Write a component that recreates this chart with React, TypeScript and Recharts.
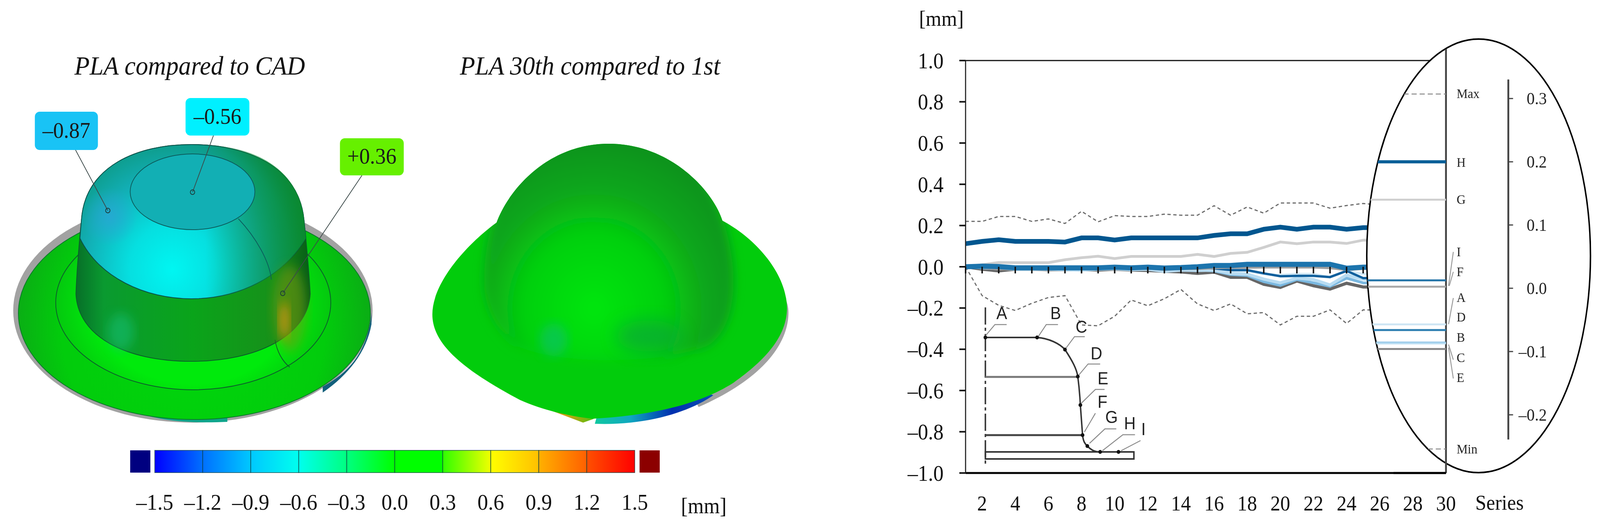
import {
  LineChart,
  Line,
  BarChart,
  Bar,
  Cell,
  XAxis,
  YAxis,
  ReferenceLine,
} from "recharts";

const SERIF = "'Liberation Serif', serif";
const SANS = "'Liberation Sans', sans-serif";

// the sandbox window stops at 4096px wide, so the 4363px layout is squeezed to fit
const FIT_X = 4096 / 4363;

// main chart, series 1..26 (the rest sits behind the ellipse)
const seriesNo = [1, 2, 3, 4, 5, 6, 7, 8, 9, 10, 11, 12, 13, 14, 15, 16, 17, 18, 19, 20, 21, 22, 23, 24, 25, 26];
const maxLine = [0.22, 0.22, 0.244, 0.244, 0.22, 0.232, 0.21, 0.269, 0.218, 0.248, 0.244, 0.244, 0.255, 0.25, 0.25, 0.296, 0.25, 0.29, 0.26, 0.309, 0.309, 0.309, 0.284, 0.297, 0.307, 0.3];
const minLine = [0, -0.14, -0.187, -0.212, -0.177, -0.149, -0.14, -0.282, -0.286, -0.24, -0.161, -0.189, -0.155, -0.11, -0.18, -0.212, -0.18, -0.228, -0.222, -0.282, -0.24, -0.24, -0.209, -0.275, -0.209, -0.21];
const lineH = [0.112, 0.123, 0.131, 0.123, 0.123, 0.123, 0.12, 0.14, 0.14, 0.13, 0.14, 0.14, 0.14, 0.14, 0.14, 0.152, 0.16, 0.16, 0.182, 0.192, 0.182, 0.192, 0.192, 0.182, 0.19, 0.19];
const lineG = [0, 0.01, 0.021, 0.02, 0.02, 0.02, 0.034, 0.044, 0.051, 0.04, 0.05, 0.05, 0.05, 0.05, 0.06, 0.05, 0.065, 0.07, 0.094, 0.12, 0.112, 0.12, 0.12, 0.113, 0.129, 0.13];
const lineI = [0, 0.003, 0.001, -0.005, -0.005, -0.005, -0.005, -0.005, -0.005, -0.002, -0.005, -0.002, -0.006, -0.004, 0, 0.006, 0.006, 0.012, 0.012, 0.012, 0.012, 0.012, 0.012, -0.007, -0.002, -0.002];
const lineF = [0, -0.004, -0.012, -0.01, -0.01, -0.01, -0.01, -0.01, -0.01, -0.008, -0.01, -0.008, -0.014, -0.01, -0.01, -0.006, -0.004, -0.004, -0.003, -0.003, -0.003, -0.003, -0.006, -0.015, -0.01, -0.01];
const lineA = [0, 0.004, 0.001, -0.006, -0.006, -0.007, -0.007, -0.006, -0.006, -0.004, -0.006, -0.004, -0.01, -0.006, -0.005, -0.01, -0.02, -0.02, -0.035, -0.04, -0.035, -0.035, -0.05, -0.02, -0.035, -0.035];
const lineD = [0, 0.001, 0.006, -0.004, -0.004, -0.005, -0.004, -0.004, -0.006, 0.003, -0.004, -0.002, -0.008, -0.004, -0.004, -0.008, -0.016, -0.016, -0.032, -0.046, -0.044, -0.044, -0.05, -0.02, -0.055, -0.055];
const lineB = [0, -0.006, -0.01, -0.01, -0.01, -0.01, -0.012, -0.014, -0.012, -0.008, -0.012, -0.012, -0.018, -0.014, -0.016, -0.02, -0.038, -0.042, -0.072, -0.09, -0.062, -0.078, -0.095, -0.055, -0.078, -0.08];
const lineC = [0, -0.004, -0.008, -0.012, -0.012, -0.012, -0.014, -0.016, -0.012, -0.01, -0.014, -0.012, -0.022, -0.016, -0.018, -0.016, -0.032, -0.036, -0.06, -0.078, -0.055, -0.062, -0.088, -0.04, -0.06, -0.065];
const lineE = [0, -0.012, -0.02, -0.012, -0.012, -0.014, -0.014, -0.014, -0.016, -0.012, -0.016, -0.018, -0.022, -0.025, -0.032, -0.026, -0.051, -0.051, -0.085, -0.1, -0.069, -0.092, -0.108, -0.08, -0.098, -0.098];
const zeroLine = seriesNo.map(() => 0);

const yTicks = [1, 0.8, 0.6, 0.4, 0.2, 0, -0.2, -0.4, -0.6, -0.8, -1];
const xTicks = [2, 4, 6, 8, 10, 12, 14, 16, 18, 20, 22, 24, 26, 28, 30];

const mainData = seriesNo.map((n, i) => ({
  n,
  zero: zeroLine[i],
  max: maxLine[i],
  min: minLine[i],
  H: lineH[i],
  G: lineG[i],
  I: lineI[i],
  F: lineF[i],
  A: lineA[i],
  D: lineD[i],
  B: lineB[i],
  C: lineC[i],
  E: lineE[i],
}));

// enlarged part inside the ellipse: values at series 30
const insetNames = ["max", "H", "G", "I", "F", "A", "D", "B", "C", "E", "min"];
const insetValues = [0.307, 0.2, 0.14, 0.0125, 0.0025, -0.057, -0.066, -0.086, -0.087, -0.096, -0.254];
const insetColors = ["#8a8a8a", "#0a5f98", "#cfcfcf", "#2474a8", "#a8a8a8", "#cfe6f4", "#2a7db0", "#7ab8e0", "#b8dcf2", "#8a8a8a", "#8a8a8a"];
const insetX = [25, 30];
const insetTicks = [0.3, 0.2, 0.1, 0, -0.1, -0.2];
const insetData = insetX.map((n) => {
  const row: Record<string, number> = { n };
  insetNames.forEach((name, i) => {
    row[name] = insetValues[i];
  });
  return row;
});

// colour scale
const scaleTicks = [-1.5, -1.2, -0.9, -0.6, -0.3, 0, 0.3, 0.6, 0.9, 1.2, 1.5];
const scaleMids = [-1.35, -1.05, -0.75, -0.45, -0.15, 0.15, 0.45, 0.75, 1.05, 1.35];
const scaleFrom = ["#0000ff", "#0070ff", "#00c8ff", "#00ffee", "#00ff80", "#00ff00", "#30ff00", "#ffff00", "#ffb000", "#ff5000"];
const scaleTo = ["#0070ff", "#00c8ff", "#00ffee", "#00ff80", "#00ff00", "#00ff00", "#f0ff00", "#ffc000", "#ff6000", "#ff0000"];
const scaleData = scaleMids.map((mid) => ({ mid, span: 1 }));

const dash = (v: number, digits = 1) =>
  v < 0 ? "–" + Math.abs(v).toFixed(digits) : v.toFixed(digits);

const layer: React.CSSProperties = { position: "absolute", left: 0, top: 0 };

function ZeroTick(p: any) {
  return <line key={p.index} x1={p.cx} y1={p.cy} x2={p.cx} y2={p.cy + 17} stroke="#111" strokeWidth={4} />;
}

function InsetTick(p: any) {
  return (
    <text
      x={p.x + 92}
      y={p.y}
      textAnchor="end"
      dominantBaseline="central"
      fontFamily={SERIF}
      fontSize={44}
      fill="#222"
    >
      {dash(p.payload.value)}
    </text>
  );
}

function Callout({ x, y, w, h, fill, text, lx1, ly1, lx2, ly2 }: any) {
  return (
    <g>
      <line x1={lx1} y1={ly1} x2={lx2} y2={ly2} stroke="#3c4a4a" strokeWidth={2} />
      <circle cx={lx2} cy={ly2} r={6} fill="none" stroke="#1c3a3a" strokeWidth={2} />
      <rect x={x} y={y} width={w} height={h} rx={13} fill={fill} />
      <text x={x + w / 2} y={y + h / 2 + 18} textAnchor="middle" fontFamily={SERIF} fontSize={58} fill="#1a1a1a">
        {text}
      </text>
    </g>
  );
}

function Hats() {
  const hat2Outline =
    "M1354 570 C 1385 490 1490 368 1660 368 C 1830 368 1945 490 1970 565 C 2060 610 2146 700 2146 790 C 2145 860 2090 920 2000 980 C 1900 1040 1760 1065 1615 1072 C 1550 1065 1480 1050 1418 1024 C 1260 945 1179 880 1179 805 C 1179 720 1280 620 1354 570 Z";
  return (
    <svg width={2300} height={1339} style={layer}>
      <defs>
        <radialGradient id="domeTop" gradientUnits="userSpaceOnUse" cx={470} cy={690} r={390}>
          <stop offset="0" stopColor="#00f6f2" />
          <stop offset="0.3" stopColor="#06dfe0" />
          <stop offset="0.62" stopColor="#12aeb4" />
          <stop offset="0.85" stopColor="#0d9a86" />
          <stop offset="1" stopColor="#0a7d50" />
        </radialGradient>
        <linearGradient id="domeRight" gradientUnits="userSpaceOnUse" x1={560} y1={0} x2={832} y2={0}>
          <stop offset="0" stopColor="#0aa040" stopOpacity={0} />
          <stop offset="1" stopColor="#0a8a2a" stopOpacity={0.9} />
        </linearGradient>
        <radialGradient id="blueSpot" gradientUnits="userSpaceOnUse" cx={300} cy={555} r={75}>
          <stop offset="0" stopColor="#2aa6d6" stopOpacity={0.8} />
          <stop offset="1" stopColor="#2aa6d6" stopOpacity={0} />
        </radialGradient>
        <linearGradient id="domeBand" gradientUnits="userSpaceOnUse" x1={207} y1={0} x2={846} y2={0}>
          <stop offset="0" stopColor="#076f28" />
          <stop offset="0.12" stopColor="#0a9a30" />
          <stop offset="0.5" stopColor="#0aa41a" />
          <stop offset="0.85" stopColor="#17901a" />
          <stop offset="1" stopColor="#065c16" />
        </linearGradient>
        <radialGradient id="hat1Brim" gradientUnits="userSpaceOnUse" cx={527} cy={830} r={480}>
          <stop offset="0" stopColor="#00d80c" />
          <stop offset="0.75" stopColor="#02cc0c" />
          <stop offset="1" stopColor="#0aae14" />
        </radialGradient>
        <radialGradient id="hat1Ring" gradientUnits="userSpaceOnUse" cx={527} cy={780} r={375} gradientTransform="translate(0 185) scale(1 0.76)">
          <stop offset="0.72" stopColor="#00ea0c" />
          <stop offset="1" stopColor="#04c80e" />
        </radialGradient>
        <radialGradient id="hat2Dome" gradientUnits="userSpaceOnUse" cx={1620} cy={790} r={480}>
          <stop offset="0" stopColor="#00e60c" />
          <stop offset="0.4" stopColor="#04d00e" />
          <stop offset="0.62" stopColor="#0aa81a" />
          <stop offset="0.85" stopColor="#0a961a" />
          <stop offset="1" stopColor="#0a8c1c" />
        </radialGradient>
        <linearGradient id="hat2Strip" x1="0" y1="0" x2="1" y2="0">
          <stop offset="0" stopColor="#10c8a0" />
          <stop offset="0.3" stopColor="#10a8c0" />
          <stop offset="0.65" stopColor="#0030b0" />
          <stop offset="1" stopColor="#0a50b0" />
        </linearGradient>
        <linearGradient id="hat2Warm" x1="0" y1="0" x2="1" y2="0">
          <stop offset="0" stopColor="#a86a20" />
          <stop offset="0.6" stopColor="#d8a010" />
          <stop offset="1" stopColor="#50c010" />
        </linearGradient>
        <clipPath id="hat2Clip">
          <path d={hat2Outline} />
        </clipPath>
        <filter id="soft" x="-20%" y="-20%" width="140%" height="140%">
          <feGaussianBlur stdDeviation="14" />
        </filter>
        <filter id="softer" x="-50%" y="-50%" width="200%" height="200%">
          <feGaussianBlur stdDeviation="22" />
        </filter>
      </defs>

      <text x={203} y={191} fontFamily={SERIF} fontStyle="italic" fontSize={68} fill="#111">
        PLA compared to CAD
      </text>
      <text x={1254} y={191} fontFamily={SERIF} fontStyle="italic" fontSize={68} fill="#111">
        PLA 30th compared to 1st
      </text>

      {/* left hat */}
      <ellipse cx={526} cy={795} rx={490} ry={287} fill="#a2a2a2" />
      <path d="M880 1005 C 950 960 1000 900 1013 830 L1013 800 C 1005 890 960 950 880 990 Z" fill="#13607c" />
      <path d="M350 1048 C 420 1075 500 1085 620 1080 L620 1062 C 520 1062 420 1050 350 1030 Z" fill="#0fa58c" />
      <ellipse cx={530} cy={802} rx={480} ry={272} fill="url(#hat1Brim)" stroke="#0a7a2a" strokeWidth={2} />
      <ellipse cx={527} cy={775} rx={375} ry={223} fill="url(#hat1Ring)" stroke="#0e5a2e" strokeWidth={2} />
      <path
        d="M207 752 C 210 680 216 620 222 563 C 232 425 375 370 522 370 C 672 370 815 425 829 563 C 835 620 842 680 846 752 C 840 860 700 925 522 925 C 340 925 212 860 207 752 Z"
        fill="url(#domeBand)"
        stroke="#0b5f2a"
        strokeWidth={2}
      />
      <path
        d="M218 610 L222 563 C 232 425 375 370 522 370 C 672 370 815 425 829 563 L834 610 C 770 710 650 765 522 765 C 395 765 270 710 218 610 Z"
        fill="url(#domeTop)"
        stroke="#0b4f4a"
        strokeWidth={2}
      />
      <path
        d="M560 372 C 680 372 815 425 829 563 L834 610 C 770 710 660 760 560 765 Z"
        fill="url(#domeRight)"
      />
      <circle cx={300} cy={555} r={75} fill="url(#blueSpot)" />
      <ellipse cx={525} cy={491} rx={170} ry={97} fill="#12afb4" stroke="#0c5c5c" strokeWidth={2} />
      <path d="M650 560 C 700 610 735 670 740 716" fill="none" stroke="#0c5c5c" strokeWidth={2} />
      <path d="M750 870 C 755 900 770 925 790 940" fill="none" stroke="#0e5a2e" strokeWidth={2} />
      <ellipse cx={790} cy={790} rx={45} ry={110} fill="#7a9a10" opacity={0.55} filter="url(#soft)" />
      <ellipse cx={775} cy={820} rx={14} ry={46} fill="#d8940c" opacity={0.8} filter="url(#soft)" />
      <ellipse cx={330} cy={850} rx={35} ry={48} fill="#18c078" opacity={0.55} filter="url(#soft)" />
      <Callout x={95} y={286} w={172} h={98} fill="#19c3f5" text="–0.87" lx1={206} ly1={384} lx2={294} ly2={539} />
      <Callout x={506} y={251} w={174} h={96} fill="#00f0ff" text="–0.56" lx1={582} ly1={347} lx2={525} ly2={492} />
      <Callout x={927} y={354} w={174} h={95} fill="#66f000" text="+0.36" lx1={987} ly1={449} lx2={771} ly2={751} />

      {/* right hat */}
      <path d="M1950 620 C 2080 680 2150 740 2150 800 C 2150 880 2080 970 1905 1042 L1880 1000 Z" fill="#a2a2a2" />
      <path d="M1630 1058 L1622 1085 C 1760 1090 1880 1055 1945 1012 L1925 1005 C 1860 1030 1760 1055 1630 1058 Z" fill="url(#hat2Strip)" />
      <path d="M1415 1020 L1590 1082 L1620 1072 L1440 1010 Z" fill="url(#hat2Warm)" />
      <path d={hat2Outline} fill="#02cc0c" />
      <g clipPath="url(#hat2Clip)">
        <path
          d="M1320 720 C 1320 600 1370 320 1660 320 C 1930 320 2000 600 2000 720 C 2000 800 1975 860 1930 885 C 1800 935 1500 935 1400 880 C 1345 835 1320 780 1320 720 Z"
          fill="url(#hat2Dome)"
          filter="url(#soft)"
        />
        <ellipse cx={1510} cy={870} rx={38} ry={42} fill="#10c070" opacity={0.6} filter="url(#soft)" />
        <ellipse cx={1770} cy={860} rx={90} ry={40} fill="#0aa040" opacity={0.6} filter="url(#softer)" />
      </g>

      {/* colour scale ends */}
      <rect x={355} y={1153} width={55} height={57} fill="#000080" />
      <rect x={1744} y={1153} width={55} height={57} fill="#8c0000" />
      <text x={1857} y={1314} fontFamily={SERIF} fontSize={56} fill="#111">
        [mm]
      </text>
    </svg>
  );
}

function ColourScale() {
  return (
    <div style={{ ...layer, left: 340, top: 1100 }}>
      <BarChart width={1500} height={230} data={scaleData} margin={{ top: 53, right: 109, bottom: 0, left: 82 }}>
        <defs>
          {scaleMids.map((_, i) => (
            <linearGradient key={i} id={"bin" + i} x1="0" y1="0" x2="1" y2="0">
              <stop offset="0" stopColor={scaleFrom[i]} />
              <stop offset="1" stopColor={scaleTo[i]} />
            </linearGradient>
          ))}
        </defs>
        <XAxis
          type="number"
          dataKey="mid"
          domain={[-1.5, 1.5]}
          ticks={scaleTicks}
          interval={0}
          height={120}
          axisLine={false}
          tickLine={false}
          tickMargin={48}
          tickFormatter={(v: number) => dash(v)}
          tick={{ fontFamily: SERIF, fontSize: 58, fill: "#111" }}
        />
        <YAxis hide domain={[0, 1]} />
        <Bar dataKey="span" barSize={130.8} isAnimationActive={false}>
          {scaleMids.map((_, i) => (
            <Cell key={i} fill={`url(#bin${i})`} stroke="rgba(10,60,60,0.65)" strokeWidth={2} />
          ))}
        </Bar>
      </BarChart>
    </div>
  );
}

function MainChart() {
  return (
    <div style={layer}>
      <LineChart width={4363} height={1339} data={mainData} margin={{ top: 155, right: 420, bottom: 0, left: 2533 }}>
        <XAxis
          type="number"
          dataKey="n"
          domain={[1, 30]}
          ticks={xTicks}
          interval={0}
          height={128}
          tickLine={false}
          tickMargin={52}
          axisLine={{ stroke: "#000", strokeWidth: 5 }}
          tick={{ fontFamily: SERIF, fontSize: 54, fill: "#111" }}
        />
        <YAxis
          width={100}
          domain={[-1, 1]}
          ticks={yTicks}
          interval={0}
          tickSize={17}
          tickMargin={43}
          tickFormatter={(v: number) => dash(v)}
          axisLine={{ stroke: "#222", strokeWidth: 3 }}
          tickLine={{ stroke: "#111", strokeWidth: 4 }}
          tick={{ fontFamily: SERIF, fontSize: 56, fill: "#111" }}
        />
        <ReferenceLine y={1} stroke="#111" strokeWidth={3} />
        <Line dataKey="zero" stroke="none" dot={ZeroTick} isAnimationActive={false} />
        <Line dataKey="max" stroke="#6c6c6c" strokeWidth={3} strokeDasharray="9 7" dot={false} isAnimationActive={false} />
        <Line dataKey="min" stroke="#6c6c6c" strokeWidth={3} strokeDasharray="9 7" dot={false} isAnimationActive={false} />
        <Line dataKey="G" stroke="#cfcfcf" strokeWidth={7} dot={false} isAnimationActive={false} />
        <Line dataKey="H" stroke="#00568f" strokeWidth={12} dot={false} isAnimationActive={false} />
        <Line dataKey="E" stroke="#666666" strokeWidth={8} dot={false} isAnimationActive={false} />
        <Line dataKey="B" stroke="#7ab8e0" strokeWidth={7} dot={false} isAnimationActive={false} />
        <Line dataKey="C" stroke="#b8dcf2" strokeWidth={8} dot={false} isAnimationActive={false} />
        <Line dataKey="A" stroke="#d3e9f6" strokeWidth={6} dot={false} isAnimationActive={false} />
        <Line dataKey="D" stroke="#0f5f9c" strokeWidth={6} dot={false} isAnimationActive={false} />
        <Line dataKey="F" stroke="#9e9e9e" strokeWidth={6} dot={false} isAnimationActive={false} />
        <Line dataKey="I" stroke="#1c74ad" strokeWidth={13} dot={false} isAnimationActive={false} />
      </LineChart>
    </div>
  );
}

// the cross-section sketch with its point letters
function Profile() {
  const points = [
    [2687, 864], [2828, 864], [2904, 895], [2939, 964], [2946, 1037], [2952, 1114], [2965, 1142], [3000, 1157], [3050, 1157],
  ];
  const leaders = [
    "M2687 860 L2713 831 L2745 831",
    "M2831 862 L2853 831 L2885 831",
    "M2907 891 L2930 862 L2958 862",
    "M2942 960 L2967 932 L3000 932",
    "M2949 1032 L2987 997 L3012 997",
    "M2957 1106 L2987 1058",
    "M2971 1135 L3013 1098 L3044 1098",
    "M3006 1154 L3062 1113 L3095 1113",
    "M3057 1154 L3110 1128",
  ];
  const letters = [
    ["A", 2717, 817], ["B", 2864, 817], ["C", 2933, 852], ["D", 2974, 920], ["E", 2993, 984],
    ["F", 2993, 1044], ["G", 3014, 1083], ["H", 3065, 1099], ["I", 3112, 1114],
  ];
  return (
    <svg width={4363} height={1339} style={layer}>
      <line x1={2687} y1={787} x2={2687} y2={1195} stroke="#333" strokeWidth={4} strokeDasharray="44 8 8 8" />
      <path
        d="M2687 864 L2828 864 C 2860 866 2890 880 2904 895 C 2925 925 2936 945 2939 964 C 2944 1000 2945 1020 2946 1037 L2952 1114 C 2954 1130 2958 1136 2965 1142 C 2975 1152 2985 1157 3000 1157 L3092 1157 L3092 1175 L2687 1175 L2687 1157 L3000 1157"
        fill="none"
        stroke="#333"
        strokeWidth={4}
      />
      <line x1={2687} y1={965} x2={2939} y2={965} stroke="#777" strokeWidth={5} />
      <line x1={2687} y1={1114} x2={2952} y2={1114} stroke="#444" strokeWidth={5} />
      {leaders.map((d, i) => (
        <path key={i} d={d} fill="none" stroke="#8a8a8a" strokeWidth={2.5} />
      ))}
      {points.map(([x, y], i) => (
        <circle key={i} cx={x} cy={y} r={5} fill="#111" />
      ))}
      {letters.map(([t, x, y]) => (
        <text key={t as string} x={x} y={y} fontFamily={SANS} fontSize={44} fill="#222">
          {t}
        </text>
      ))}
    </svg>
  );
}

// white ellipse sits on top of the main chart
function Ellipse() {
  return (
    <svg width={4363} height={1339} style={layer}>
      <ellipse cx={4032} cy={655} rx={305} ry={555} fill="#fff" stroke="#000" strokeWidth={4} />
      <line x1={3943} y1={126} x2={3943} y2={1211} stroke="#444" strokeWidth={5} />
      <line x1={3800} y1={1211} x2={3943} y2={1211} stroke="#000" strokeWidth={5} />
    </svg>
  );
}

function Inset() {
  return (
    <div style={{ ...layer, clipPath: "ellipse(305px 555px at 4032px 655px)" }}>
      <LineChart width={4363} height={1339} data={insetData} margin={{ top: 155, right: 150, bottom: 128, left: 2633 }}>
        <XAxis hide type="number" dataKey="n" domain={[1, 33.763]} />
        <YAxis
          orientation="right"
          width={100}
          domain={[-0.292, 0.36]}
          ticks={insetTicks}
          interval={0}
          tickSize={13}
          tickMargin={0}
          axisLine={false}
          tickLine={{ stroke: "#444", strokeWidth: 3 }}
          tick={InsetTick}
        />
        <ReferenceLine
          segment={[
            { x: 33.763, y: 0.33 },
            { x: 33.763, y: -0.239 },
          ]}
          stroke="#444"
          strokeWidth={5}
          ifOverflow="visible"
        />
        {insetNames.map((name, i) => (
          <Line
            key={name}
            dataKey={name}
            stroke={insetColors[i]}
            strokeWidth={name === "H" ? 8 : name === "max" || name === "min" ? 2.5 : 5}
            strokeDasharray={name === "max" || name === "min" ? "14 8" : undefined}
            dot={false}
            isAnimationActive={false}
          />
        ))}
      </LineChart>
    </div>
  );
}

// names beside the enlarged lines
function InsetLabels() {
  const labels = [
    ["Max", 240], ["H", 416], ["G", 511], ["I", 645], ["F", 696], ["A", 762], ["D", 812], ["B", 864], ["C", 916], ["E", 967], ["Min", 1150],
  ];
  const ties = [
    "M3950 732 L3963 645",
    "M3952 732 L3963 696",
    "M3950 830 L3963 763",
    "M3950 882 L3963 921",
    "M3950 890 L3963 969",
  ];
  return (
    <svg width={4363} height={1339} style={layer}>
      {ties.map((d, i) => (
        <path key={i} d={d} fill="none" stroke="#999" strokeWidth={2.5} />
      ))}
      {labels.map(([t, y]) => (
        <text key={t as string} x={3972} y={y} dominantBaseline="central" fontFamily={SERIF} fontSize={34} fill="#222">
          {t}
        </text>
      ))}
      <text x={4023} y={1305} fontFamily={SERIF} fontSize={54} fill="#111">
        Series
      </text>
      <text x={2506} y={66} fontFamily={SERIF} fontSize={55} fill="#111">
        [mm]
      </text>
    </svg>
  );
}

export default function App() {
  return (
    <div style={{ position: "fixed", left: 0, top: 0, width: 4096, height: 1339, background: "#fff", overflow: "hidden" }}>
      <div style={{ ...layer, width: 4363, height: 1339, transform: `scaleX(${FIT_X})`, transformOrigin: "0 0" }}>
        <Hats />
        <ColourScale />
        <MainChart />
        <Profile />
        <Ellipse />
        <Inset />
        <InsetLabels />
      </div>
    </div>
  );
}
